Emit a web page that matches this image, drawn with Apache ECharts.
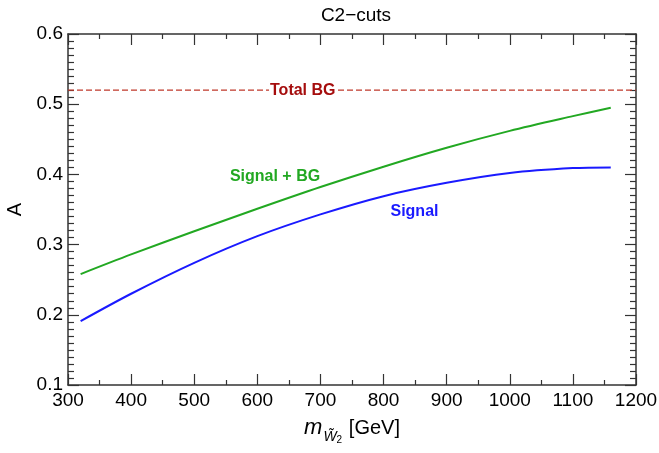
<!DOCTYPE html>
<html>
<head>
<meta charset="utf-8">
<script src="https://cdn.jsdelivr.net/npm/echarts@6/dist/echarts.min.js"></script>
<style>
  html, body { margin: 0; padding: 0; background: #fff; }
  #main { width: 659px; height: 453px; }
</style>
</head>
<body>
<div id="main"></div>
<script>
// masses in GeV
const massX = [320, 400, 500, 600, 700, 800, 900, 1000, 1100, 1160];
const signalBG = [0.258, 0.286, 0.319, 0.351, 0.382, 0.411, 0.438, 0.462, 0.483, 0.495];
const signal = [0.191, 0.230, 0.274, 0.312, 0.343, 0.369, 0.388, 0.402, 0.409, 0.410];
const totalBGX = [300, 1200];
const totalBG = 0.52;

const font = 'Liberation Sans, Arial, sans-serif';
const frame = { show: true, lineStyle: { color: '#333', width: 1.5 } };

const chart = echarts.init(document.getElementById('main'));

const xCommon = {
  type: 'value', min: 300, max: 1200, interval: 100,
  axisLine: frame,
  splitLine: { show: false },
  axisTick: { inside: true, length: 11, lineStyle: { color: '#333', width: 1.2 } },
  minorTick: { show: true, splitNumber: 2, length: 5, lineStyle: { color: '#333', width: 1.2 } }
};
const yCommon = {
  type: 'value', min: 0.1, max: 0.6, interval: 0.1,
  axisLine: frame,
  splitLine: { show: false },
  axisTick: { inside: true, length: 11, lineStyle: { color: '#333', width: 1.2 } },
  minorTick: { show: true, splitNumber: 10, length: 6, lineStyle: { color: '#333', width: 1.2 } }
};

chart.setOption({
  animation: false,
  title: {
    text: 'C2\u2212cuts', left: 351, top: 1, textAlign: 'center',
    textStyle: { fontFamily: font, fontSize: 19, fontWeight: 'normal', color: '#000' }
  },
  grid: { left: 68, right: 23, top: 34, bottom: 68, outerBoundsMode: 'none' },
  xAxis: [
    Object.assign({}, xCommon, {
      position: 'bottom',
      axisLabel: { fontFamily: font, fontSize: 19, color: '#000', margin: 6, formatter: v => String(v) },
      name: '{m|m}{s|W\u0303}{n|2}  {u|[GeV]}',
      nameLocation: 'middle', nameGap: 26,
      nameTextStyle: {
        rich: {
          m: { fontFamily: font, fontSize: 22, fontStyle: 'italic', color: '#000' },
          s: { fontFamily: font, fontSize: 14, fontStyle: 'italic', color: '#000', padding: [18, 0, 0, 1] },
          n: { fontFamily: font, fontSize: 10, color: '#000', padding: [24, 0, 0, 0] },
          u: { fontFamily: font, fontSize: 20, color: '#000' }
        }
      }
    }),
    Object.assign({}, xCommon, { position: 'top', axisLabel: { show: false } })
  ],
  yAxis: [
    Object.assign({}, yCommon, {
      position: 'left',
      axisLabel: { fontFamily: font, fontSize: 19, color: '#000', margin: 5, formatter: v => v.toFixed(1) },
      name: 'A', nameLocation: 'middle', nameGap: 40, nameRotate: 90,
      nameTextStyle: { fontFamily: font, fontSize: 20, color: '#000' }
    }),
    Object.assign({}, yCommon, { position: 'right', axisLabel: { show: false } })
  ],
  series: [
    {
      name: 'Total BG', type: 'line', symbol: 'none',
      data: totalBGX.map(x => [x, totalBG]),
      lineStyle: { color: '#c0392b', width: 1.3, type: [6, 3] },
      markPoint: {
        symbolSize: 0,
        data: [{ coord: [672, totalBG] }],
        label: {
          show: true, position: 'inside', formatter: 'Total BG',
          fontFamily: font, fontSize: 16, fontWeight: 'bold', color: '#a50d0d',
          backgroundColor: '#fff', padding: [1, 1]
        }
      }
    },
    {
      name: 'Signal + BG', type: 'line', symbol: 'none', smooth: 0.3,
      data: massX.map((x, i) => [x, signalBG[i]]),
      lineStyle: { color: '#22a822', width: 2 },
      markPoint: {
        symbolSize: 0,
        data: [{ coord: [628, 0.397] }],
        label: {
          show: true, position: 'inside', formatter: 'Signal + BG',
          fontFamily: font, fontSize: 16, fontWeight: 'bold', color: '#22a822'
        }
      }
    },
    {
      name: 'Signal', type: 'line', symbol: 'none', smooth: 0.3,
      data: massX.map((x, i) => [x, signal[i]]),
      lineStyle: { color: '#1a1aff', width: 2 },
      markPoint: {
        symbolSize: 0,
        data: [{ coord: [849, 0.347] }],
        label: {
          show: true, position: 'inside', formatter: 'Signal',
          fontFamily: font, fontSize: 16, fontWeight: 'bold', color: '#1a1aff'
        }
      }
    }
  ]
});
</script>
</body>
</html>
